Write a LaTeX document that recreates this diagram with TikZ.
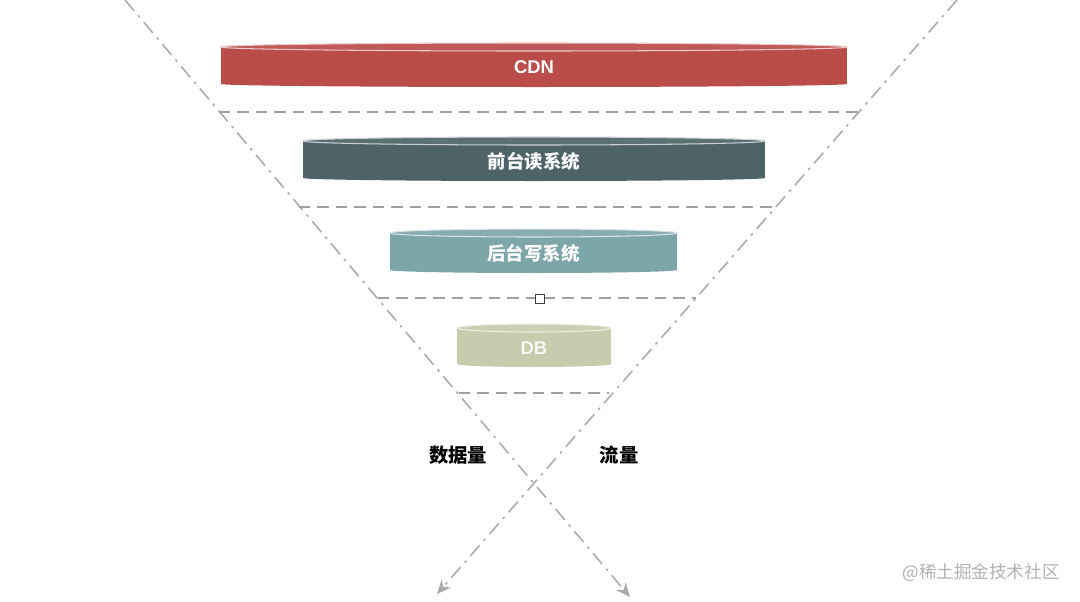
\documentclass[tikz,border=0pt]{standalone}
\usepackage{fontspec}
\setmainfont{Noto Sans CJK SC}
\newfontfamily\latinsans{Liberation Sans}
\usetikzlibrary{arrows.meta}
\definecolor{cdnred}{HTML}{BA4C4A}
\definecolor{frontslate}{HTML}{4E6367}
\definecolor{backteal}{HTML}{7DA6A9}
\definecolor{dbolive}{HTML}{C8CBAD}
\definecolor{axisgray}{HTML}{ABABAB}
\definecolor{levelgray}{HTML}{A0A0A0}
\tikzset{
  axisline/.style={axisgray, line width=0.9pt, dash pattern=on 8pt off 3.5pt on 1.5pt off 3.5pt,
    -{Stealth[length=8pt,width=7pt]}},
  levelline/.style={levelgray, line width=1.1pt, dash pattern=on 6.5pt off 4pt},
  cyltext/.style={font=\bfseries\fontsize{10.5}{12}\selectfont},
  sidelabel/.style={font=\bfseries\fontsize{11}{13}\selectfont, text=black}
}
\begin{document}
\begin{tikzpicture}[x=0.02cm,y=-0.02cm]
  \useasboundingbox (0,0) rectangle (1080,602);
  % the two crossing axes
  \coordinate (dataTop) at (125,0);
  \coordinate (dataEnd) at (630,597);
  \coordinate (flowTop) at (957,0);
  \coordinate (flowEnd) at (437,594);
  \draw[axisline] (dataTop) -- (dataEnd);
  \draw[axisline] (flowTop) -- (flowEnd);

  % level separators
  \foreach \y/\xa/\xb in {112/219/860, 207/299/778, 298/378/696, 393/459/609}{
    \draw[levelline] (\xa,\y) -- (\xb,\y);}

  % layers
  \foreach \nm/\cx/\hw/\ty/\by/\col/\tc/\txt in {
      cdn/534/313/47/84/cdnred/white/{\latinsans CDN},
      front/534/231/141/178/frontslate/white/前台读系统,
      back/533.5/143.5/233/270/backteal/white/后台写系统,
      db/534/77/328/364/dbolive/white!85!dbolive/{\latinsans DB}}{
    \fill[\col] (\cx,\by) ellipse[x radius=\hw, y radius=3];
    \fill[\col] (\cx-\hw,\ty) rectangle (\cx+\hw,\by);
    \fill[\col!92!white, draw=white!70!\col, line width=0.6pt] (\cx,\ty) ellipse[x radius=\hw, y radius=4];
    \node[cyltext, text=\tc] (\nm) at (\cx,{(\ty+\by)/2+2}) {\txt};
  }

  \node[draw=black!75, fill=white, line width=0.5pt, minimum size=0.17cm, inner sep=0pt] (mark) at (540,299) {};

  \node[sidelabel] (dataLabel) at (458,455) {数据量};
  \node[sidelabel] (flowLabel) at (619,455) {流量};

  \node[text=black!30, font=\fontsize{10}{12}\selectfont] (watermark) at (981,573) {@稀土掘金技术社区};
\end{tikzpicture}
\end{document}
